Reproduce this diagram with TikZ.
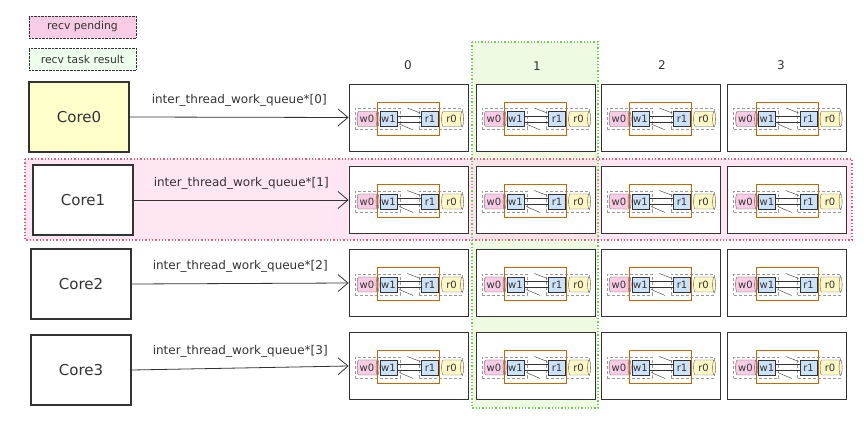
\documentclass[tikz,border=0pt]{standalone}
\usepackage{fontspec}
\setmainfont{DejaVu Sans}
\usetikzlibrary{arrows.meta,shapes.geometric,positioning}
\definecolor{pendColor}{HTML}{FFDDEE}
\definecolor{pendLine}{HTML}{DC6078}
\definecolor{taskColor}{HTML}{EEFBE2}
\definecolor{taskLine}{HTML}{70CC50}
\definecolor{coreColor}{HTML}{FFFFCC}
\definecolor{wColor}{HTML}{F8CCE4}
\definecolor{rColor}{HTML}{FFF8C4}
\definecolor{slotColor}{HTML}{CCE2F8}
\definecolor{ringColor}{HTML}{CC6600}
\definecolor{inkColor}{HTML}{333333}
\tikzset{
	core/.style={draw=inkColor, line width=1.8pt, minimum width=100pt, minimum height=70pt,
		font=\fontsize{15}{18}\selectfont, text=inkColor},
	legend/.style={draw=inkColor, densely dotted, minimum width=107pt, minimum height=22pt,
		font=\fontsize{10.8}{12}\selectfont, text=inkColor},
	dashbox/.style={draw=black!40, densely dashed, minimum height=21pt},
	slot/.style={draw=inkColor, fill=slotColor, minimum width=17pt, minimum height=15pt, inner sep=0pt},
	drum/.style={cylinder, draw=black!65, aspect=0.35, minimum width=15pt, minimum height=22pt, inner sep=0.5pt},
	pics/queue/.style={code={
			\node[draw=inkColor, line width=0.8pt, fill=white, minimum width=119pt, minimum height=67pt] (-box) at (0,0) {};
			\node[dashbox, minimum width=45pt] (-wg) at (-31,1.5) {};
			\node[dashbox, minimum width=43pt] (-rg) at (32,1.5) {};
			\node[drum, fill=wColor] (-w0) at (-41.5,1.5) {w0};
			\node[slot] (-w1) at (-20,1.5) {w1};
			\node[slot] (-r1) at (21.5,1.5) {r1};
			\node[drum, fill=rColor] (-r0) at (43,1.5) {r0};
			\node[draw=ringColor, thick, minimum width=62pt, minimum height=33pt] (-ring) at (0,1) {};
			\draw[-, inkColor] ([yshift=3pt]-w1.east) -- ([yshift=3pt]-r1.west);
			\draw[-, inkColor] ([yshift=-3pt]-w1.east) -- ([yshift=-3pt]-r1.west);
			\draw[-, inkColor] ([shift={(-14,-11)}]-r1.west) -- ([shift={(-1,-6)}]-r1.west);
			\draw[-, inkColor] ([shift={(2,5)}]-w1.east) -- ([shift={(16,11)}]-w1.east);
	}}
}
\begin{document}
\begin{tikzpicture}[x=1pt,y=-1pt,->,>={Straight Barb[length=10pt,width=17pt]},
	font=\fontsize{12}{14}\selectfont, text=inkColor]
	\useasboundingbox (0,0) rectangle (868,430);
	% highlighted column and row
	\path[fill=taskColor] (472,42) rectangle (598,408);
	\path[fill=pendColor, fill opacity=0.75] (25,159) rectangle (852,240);
	\draw[-, taskLine, line width=1.3pt, dotted] (472,42) rectangle (598,408);
	\draw[-, pendLine, line width=1.3pt, dotted] (25,159) rectangle (852,240);
	
	\node[legend, fill=wColor] (pend) at (82.5,27) {recv pending};
	\node[legend, fill=taskColor!70!green!20] (task) at (82.5,59) {recv task result};
	
	\node[core, fill=coreColor] (core0) at (79,117) {Core0};
	\node[core, fill=white] (core1) at (83,200) {Core1};
	\node[core, fill=white] (core2) at (81,284) {Core2};
	\node[core, fill=white] (core3) at (81,370) {Core3};
	
	\foreach \c/\x in {0/408.5,1/535.5,2/660.5,3/787}
	\foreach \r/\y in {0/117.5,1/200,2/283,3/366}
	\pic[font=\fontsize{10}{11}\selectfont] (q\r\c) at (\x,\y) {queue};
	
	\node (col0) at (408,65) {0};
	\node (col1) at (537,66) {1};
	\node (col2) at (662,65) {2};
	\node (col3) at (781,65) {3};
	
	\path (core0.east) edge[inkColor, line width=0.8pt] node[above=7pt] {inter\_thread\_work\_queue*[0]} (q00-box.west);
	\path (core1.east) edge[inkColor, line width=0.8pt] node[above=7pt] {inter\_thread\_work\_queue*[1]} (q10-box.west);
	\path (core2.east) edge[inkColor, line width=0.8pt] node[above=7pt] {inter\_thread\_work\_queue*[2]} (q20-box.west);
	\path (core3.east) edge[inkColor, line width=0.8pt] node[above=7pt] {inter\_thread\_work\_queue*[3]} (q30-box.west);
\end{tikzpicture}
\end{document}
